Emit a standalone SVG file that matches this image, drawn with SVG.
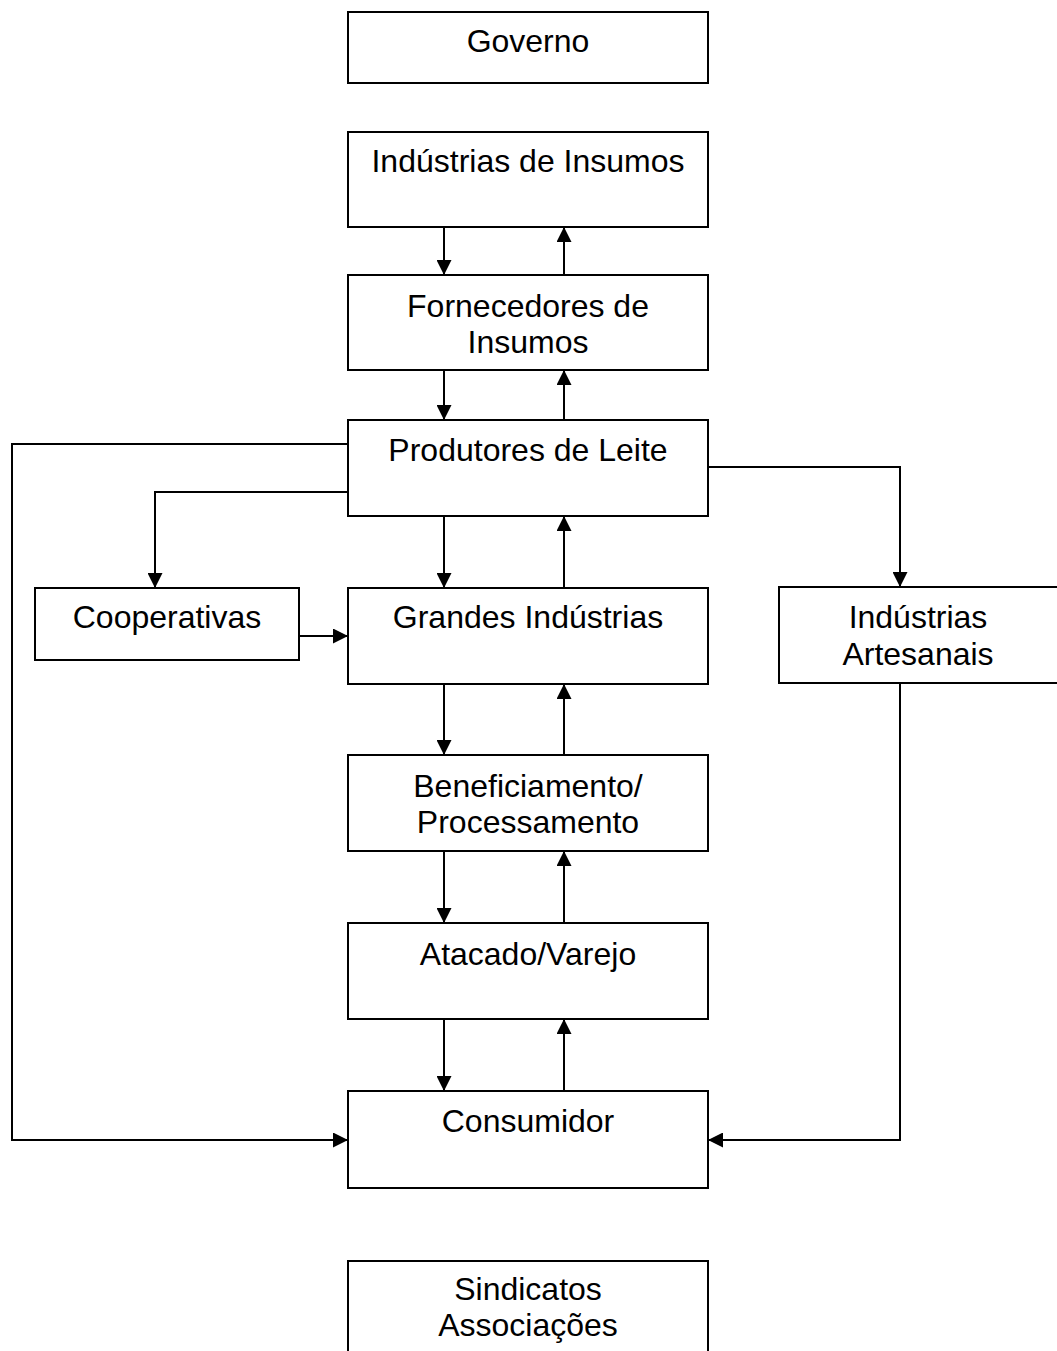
<svg xmlns="http://www.w3.org/2000/svg" width="1057" height="1351" viewBox="0 0 1057 1351">
  <style>
    .box { fill: #ffffff; stroke: #000000; stroke-width: 2; }
    .lbl { font-family: "Liberation Sans", Arial, sans-serif; font-size: 32px; fill: #000000; text-anchor: middle; }
    .wire { fill: none; stroke: #000000; stroke-width: 2; marker-end: url(#arrow); }
    .plain { fill: none; stroke: #000000; stroke-width: 2; }
  </style>
  <defs>
    <marker id="arrow" markerUnits="userSpaceOnUse" markerWidth="15" markerHeight="15" refX="15" refY="7.5" orient="auto">
      <path d="M0,0 L15,7.5 L0,15 Z" fill="#000000"/>
    </marker>
  </defs>
  <rect width="1057" height="1351" fill="#ffffff"/>

  <g id="connectors">
    <!-- Insumos <-> Fornecedores -->
    <line class="wire" x1="444" y1="227" x2="444" y2="275"/>
    <line class="wire" x1="564" y1="275" x2="564" y2="227"/>
    <!-- Fornecedores <-> Produtores -->
    <line class="wire" x1="444" y1="370" x2="444" y2="420"/>
    <line class="wire" x1="564" y1="420" x2="564" y2="370"/>
    <!-- Produtores <-> Grandes -->
    <line class="wire" x1="444" y1="516" x2="444" y2="588"/>
    <line class="wire" x1="564" y1="588" x2="564" y2="516"/>
    <!-- Grandes <-> Beneficiamento -->
    <line class="wire" x1="444" y1="684" x2="444" y2="755"/>
    <line class="wire" x1="564" y1="755" x2="564" y2="684"/>
    <!-- Beneficiamento <-> Atacado -->
    <line class="wire" x1="444" y1="851" x2="444" y2="923"/>
    <line class="wire" x1="564" y1="923" x2="564" y2="851"/>
    <!-- Atacado <-> Consumidor -->
    <line class="wire" x1="444" y1="1019" x2="444" y2="1091"/>
    <line class="wire" x1="564" y1="1091" x2="564" y2="1019"/>
    <!-- Produtores -> Consumidor (left bypass) -->
    <polyline class="wire" points="348,444 12,444 12,1140 348,1140"/>
    <!-- Produtores -> Cooperativas -->
    <polyline class="wire" points="348,492 155,492 155,588"/>
    <!-- Cooperativas -> Grandes -->
    <line class="wire" x1="299" y1="636" x2="348" y2="636"/>
    <!-- Produtores -> Artesanais -->
    <polyline class="wire" points="708,467 900,467 900,587"/>
    <!-- Artesanais -> Consumidor -->
    <polyline class="wire" points="900,683 900,1140 708,1140"/>
  </g>

  <g id="governo">
    <rect class="box" x="348" y="12" width="360" height="71"/>
    <text class="lbl" x="528" y="52">Governo</text>
  </g>
  <g id="industrias-insumos">
    <rect class="box" x="348" y="132" width="360" height="95"/>
    <text class="lbl" x="528" y="172">Indústrias de Insumos</text>
  </g>
  <g id="fornecedores">
    <rect class="box" x="348" y="275" width="360" height="95"/>
    <text class="lbl" x="528" y="317">Fornecedores de</text>
    <text class="lbl" x="528" y="353">Insumos</text>
  </g>
  <g id="produtores">
    <rect class="box" x="348" y="420" width="360" height="96"/>
    <text class="lbl" x="528" y="461">Produtores de Leite</text>
  </g>
  <g id="cooperativas">
    <rect class="box" x="35" y="588" width="264" height="72"/>
    <text class="lbl" x="167" y="628">Cooperativas</text>
  </g>
  <g id="grandes-industrias">
    <rect class="box" x="348" y="588" width="360" height="96"/>
    <text class="lbl" x="528" y="628">Grandes Indústrias</text>
  </g>
  <g id="industrias-artesanais">
    <rect class="box" x="779" y="587" width="280" height="96"/>
    <text class="lbl" x="918" y="628">Indústrias</text>
    <text class="lbl" x="918" y="665">Artesanais</text>
  </g>
  <g id="beneficiamento">
    <rect class="box" x="348" y="755" width="360" height="96"/>
    <text class="lbl" x="528" y="797">Beneficiamento/</text>
    <text class="lbl" x="528" y="833">Processamento</text>
  </g>
  <g id="atacado">
    <rect class="box" x="348" y="923" width="360" height="96"/>
    <text class="lbl" x="528" y="965">Atacado/Varejo</text>
  </g>
  <g id="consumidor">
    <rect class="box" x="348" y="1091" width="360" height="97"/>
    <text class="lbl" x="528" y="1132">Consumidor</text>
  </g>
  <g id="sindicatos">
    <rect class="box" x="348" y="1261" width="360" height="110"/>
    <text class="lbl" x="528" y="1300">Sindicatos</text>
    <text class="lbl" x="528" y="1336">Associações</text>
  </g>
</svg>
